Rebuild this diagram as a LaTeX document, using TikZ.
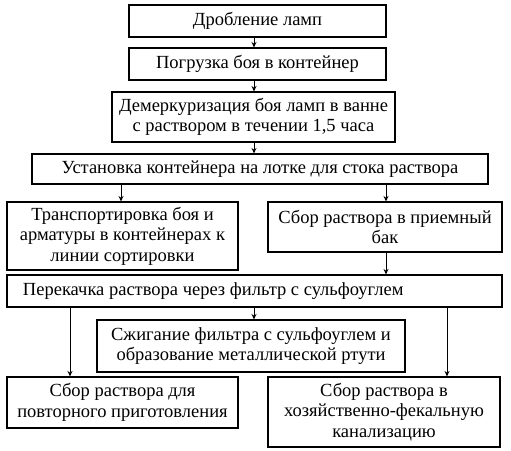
\documentclass[tikz,border=0pt]{standalone}
\usepackage{fontspec}
\setmainfont{Liberation Serif}
\usetikzlibrary{arrows.meta,calc}
\begin{document}
\begin{tikzpicture}[x=1pt,y=1pt,
  box/.style={draw,line width=1.1pt,inner sep=1pt,align=center,font=\fontsize{18.5}{20.5}\selectfont},
  arr/.style={line width=0.9pt,-{Stealth[length=5.5pt,width=5pt]}}]
\useasboundingbox (0,0) rectangle (511,-450);
\node[box,minimum width=257,minimum height=32] (b1) at (257.5,-21) {Дробление ламп};
\node[box,minimum width=257,minimum height=32] (b2) at (257.5,-64) {Погрузка боя в контейнер};
\node[box,minimum width=283,minimum height=50] (b3) at (253.5,-117) {Демеркуризация боя ламп в ванне\\с раствором в течении 1,5 часа};
\node[box,minimum width=456,minimum height=30] (b4) at (260,-169) {Установка контейнера на лотке для стока раствора};
\node[box,minimum width=231,minimum height=68] (b5) at (122.5,-236) {Транспортировка боя и\\арматуры в контейнерах к\\линии сортировки};
\node[box,minimum width=234,minimum height=50] (b6) at (385,-227) {Сбор раствора в приемный\\бак};
\node[box,minimum width=495,minimum height=32] (b7) at (254.5,-291) {\makebox[477pt][l]{\hspace*{7pt}Перекачка раствора через фильтр с сульфоуглем}};
\node[box,minimum width=308,minimum height=52] (b8) at (251,-346) {Сжигание фильтра с сульфоуглем и\\образование металлической ртути};
\node[box,minimum width=231,minimum height=51] (b9) at (122.5,-402.5) {Сбор раствора для\\повторного приготовления};
\node[box,minimum width=232,minimum height=70] (b10) at (384,-412) {Сбор раствора в\\хозяйственно-фекальную\\канализацию};
\coordinate (cm) at (254,0);
\coordinate (cl) at (121,0);
\coordinate (cr) at (386,0);
\coordinate (c9) at (70,0);
\coordinate (c10) at (447,0);
\draw[arr] (cm |- b1.south) -- (cm |- b2.north);
\draw[arr] (cm |- b2.south) -- (cm |- b3.north);
\draw[arr] (cm |- b3.south) -- (cm |- b4.north);
\draw[arr] (cl |- b4.south) -- (cl |- b5.north);
\draw[arr] (cr |- b4.south) -- (cr |- b6.north);
\draw[arr] (cr |- b6.south) -- (cr |- b7.north);
\draw[arr] (cm |- b7.south) -- (cm |- b8.north);
\draw[arr] (c9 |- b7.south) -- (c9 |- b9.north);
\draw[arr] (c10 |- b7.south) -- (c10 |- b10.north);
\end{tikzpicture}
\end{document}
